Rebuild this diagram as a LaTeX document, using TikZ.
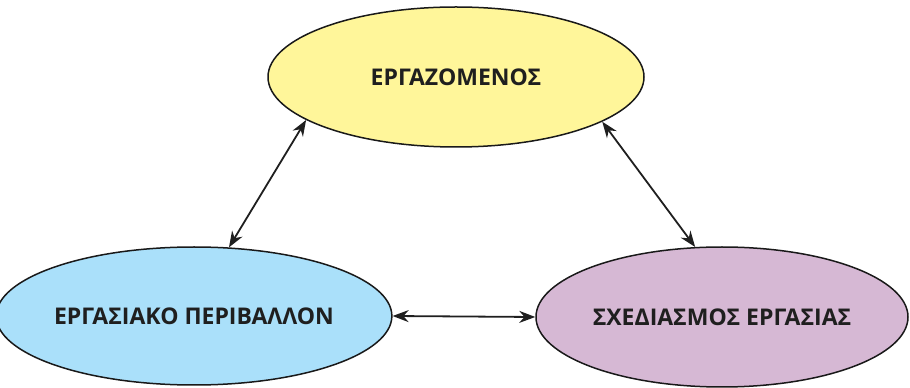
\documentclass[tikz,border=0pt]{standalone}
\usepackage{fontspec}
\setmainfont{Open Sans}
\usetikzlibrary{shapes.geometric, arrows.meta, positioning}
\definecolor{workeryellow}{RGB}{255,246,154}
\definecolor{envblue}{RGB}{170,224,250}
\definecolor{planpurple}{RGB}{214,184,212}
\tikzstyle{party} = [ellipse, minimum width=376pt, minimum height=140pt, inner sep=0pt, draw=black!90, line width=1.5pt, font=\fontsize{23}{27}\selectfont\bfseries, text=black!88]
\tikzstyle{arrow} = [line width=1.8pt, draw=black!88, {Stealth[length=16pt,width=12pt]}-{Stealth[length=16pt,width=12pt]}]

\begin{document}
\begin{tikzpicture}[x=1pt, y=1pt]
    \useasboundingbox (0,0) rectangle (910,388);

    % Worker
    \node (worker) [party, fill=workeryellow] at (456,311) {ΕΡΓΑΖΟΜΕΝΟΣ};

    % Work environment
    \node (env) [party, fill=envblue, minimum width=374pt, minimum height=138pt] at (194,72) {ΕΡΓΑΣΙΑΚΟ ΠΕΡΙΒΑΛΛΟΝ};

    % Work planning
    \node (plan) [party, fill=planpurple, minimum width=372pt] at (722,71) {ΣΧΕΔΙΑΣΜΟΣ ΕΡΓΑΣΙΑΣ};

    % Arrows
    \draw [arrow] (worker.196) -- (env.63);
    \draw [arrow] (worker.343) -- (plan.111);
    \draw [arrow] (env.east) -- (plan.west);
\end{tikzpicture}
\end{document}
